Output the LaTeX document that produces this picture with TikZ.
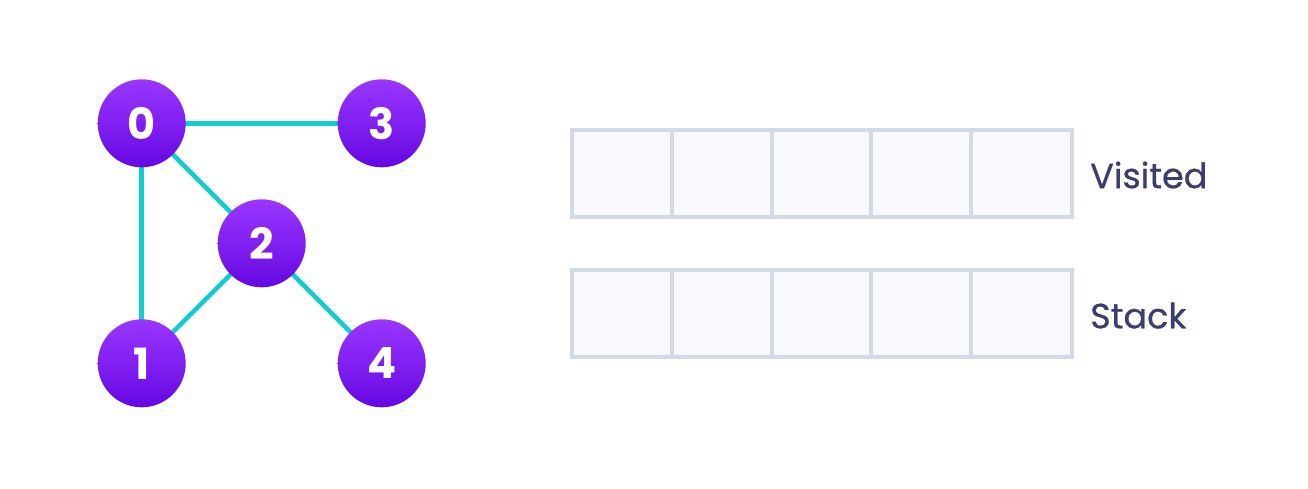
\documentclass[tikz,border=0pt]{standalone}
\usepackage{fontspec}
\setmainfont{Poppins}
\newfontfamily\labelfont[FakeBold=0.6]{Poppins}
\definecolor{edgec}{HTML}{10CCCC}
\definecolor{topc}{HTML}{9A36FF}
\definecolor{botc}{HTML}{6508E2}
\definecolor{cellfill}{HTML}{F8F9FE}
\definecolor{celldraw}{HTML}{D3DAE6}
\definecolor{labelc}{HTML}{3C3C6E}
\begin{document}
\begin{tikzpicture}[x=1pt,y=-1pt,
  vertex/.style={circle, minimum size=88pt, inner sep=0pt, top color=topc, bottom color=botc, text=white, font=\fontsize{43}{43}\selectfont\bfseries},
  edge/.style={edgec, line width=4.5pt},
  cell/.style={rectangle, draw=celldraw, fill=cellfill, line width=4pt, minimum width=100.5pt, minimum height=87pt, inner sep=0pt},
  lbl/.style={anchor=west, text=labelc, font=\labelfont\fontsize{35}{35}\selectfont, inner sep=0pt}]
\useasboundingbox (0,0) rectangle (1308,488);
\coordinate (c0) at (141.7,123.3);
\coordinate (c3) at (381.7,123.3);
\coordinate (c2) at (261.7,243.3);
\coordinate (c1) at (141.7,363.3);
\coordinate (c4) at (381.7,363.3);
\draw[edge] (c0) -- (c3);
\draw[edge] (c0) -- (c1);
\draw[edge] (c0) -- (c2);
\draw[edge] (c2) -- (c1);
\draw[edge] (c2) -- (c4);
\node[vertex] (n0) at (c0) {0};
\node[vertex] (n3) at (c3) {3};
\node[vertex] (n2) at (c2) {2};
\node[vertex] (n1) at (c1) {1};
\node[vertex] (n4) at (c4) {4};
\foreach \i in {0,...,4} {
  \node[cell] (v\i) at (622.25+\i*99.75,173.5) {};
  \node[cell] (s\i) at (622.25+\i*99.75,313.5) {};
}
\node[lbl] (visited) at (1090,175) {Visited};
\node[lbl] (stack) at (1090,315.5) {Stack};
\end{tikzpicture}
\end{document}
